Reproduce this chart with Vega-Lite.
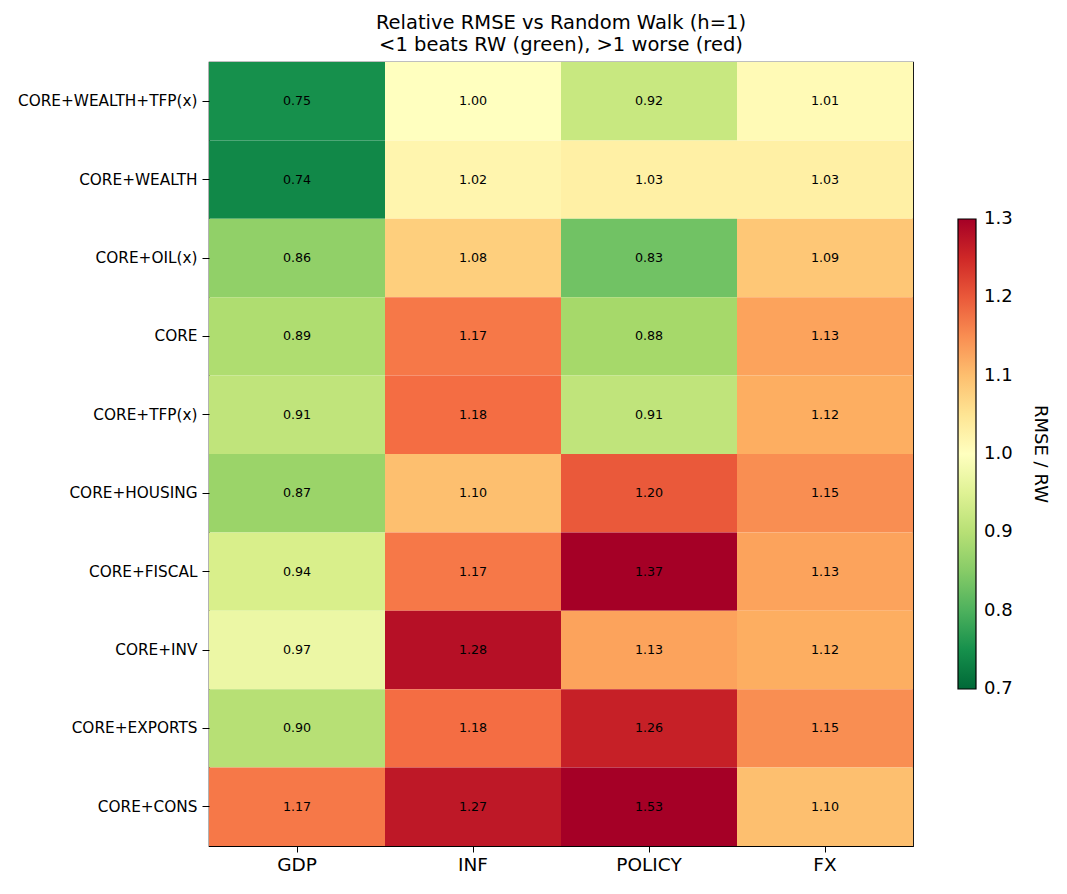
{
  "$schema": "https://vega.github.io/schema/vega-lite/v6.json",
  "autosize": "none",
  "padding": {"left": 209, "top": 62, "right": 154, "bottom": 48},
  "width": 704,
  "height": 784,
  "background": "white",
  "config": {
    "font": "DejaVu Sans",
    "view": {"stroke": "black", "strokeWidth": 1.2},
    "axis": {"grid": false, "domain": false, "tickColor": "black", "tickWidth": 1, "labelColor": "black", "labelFont": "DejaVu Sans"}
  },
  "title": {
    "text": ["Relative RMSE vs Random Walk (h=1)", "<1 beats RW (green), >1 worse (red)"],
    "fontSize": 19.5,
    "fontWeight": "normal",
    "font": "DejaVu Sans",
    "anchor": "middle",
    "lineHeight": 22,
    "offset": 7,
    "color": "black"
  },
  "data": {
    "values": [
      {"model": "CORE+WEALTH+TFP(x)", "target": "GDP", "v": 0.75},
      {"model": "CORE+WEALTH+TFP(x)", "target": "INF", "v": 1.00},
      {"model": "CORE+WEALTH+TFP(x)", "target": "POLICY", "v": 0.92},
      {"model": "CORE+WEALTH+TFP(x)", "target": "FX", "v": 1.01},
      {"model": "CORE+WEALTH", "target": "GDP", "v": 0.74},
      {"model": "CORE+WEALTH", "target": "INF", "v": 1.02},
      {"model": "CORE+WEALTH", "target": "POLICY", "v": 1.03},
      {"model": "CORE+WEALTH", "target": "FX", "v": 1.03},
      {"model": "CORE+OIL(x)", "target": "GDP", "v": 0.86},
      {"model": "CORE+OIL(x)", "target": "INF", "v": 1.08},
      {"model": "CORE+OIL(x)", "target": "POLICY", "v": 0.83},
      {"model": "CORE+OIL(x)", "target": "FX", "v": 1.09},
      {"model": "CORE", "target": "GDP", "v": 0.89},
      {"model": "CORE", "target": "INF", "v": 1.17},
      {"model": "CORE", "target": "POLICY", "v": 0.88},
      {"model": "CORE", "target": "FX", "v": 1.13},
      {"model": "CORE+TFP(x)", "target": "GDP", "v": 0.91},
      {"model": "CORE+TFP(x)", "target": "INF", "v": 1.18},
      {"model": "CORE+TFP(x)", "target": "POLICY", "v": 0.91},
      {"model": "CORE+TFP(x)", "target": "FX", "v": 1.12},
      {"model": "CORE+HOUSING", "target": "GDP", "v": 0.87},
      {"model": "CORE+HOUSING", "target": "INF", "v": 1.10},
      {"model": "CORE+HOUSING", "target": "POLICY", "v": 1.20},
      {"model": "CORE+HOUSING", "target": "FX", "v": 1.15},
      {"model": "CORE+FISCAL", "target": "GDP", "v": 0.94},
      {"model": "CORE+FISCAL", "target": "INF", "v": 1.17},
      {"model": "CORE+FISCAL", "target": "POLICY", "v": 1.37},
      {"model": "CORE+FISCAL", "target": "FX", "v": 1.13},
      {"model": "CORE+INV", "target": "GDP", "v": 0.97},
      {"model": "CORE+INV", "target": "INF", "v": 1.28},
      {"model": "CORE+INV", "target": "POLICY", "v": 1.13},
      {"model": "CORE+INV", "target": "FX", "v": 1.12},
      {"model": "CORE+EXPORTS", "target": "GDP", "v": 0.90},
      {"model": "CORE+EXPORTS", "target": "INF", "v": 1.18},
      {"model": "CORE+EXPORTS", "target": "POLICY", "v": 1.26},
      {"model": "CORE+EXPORTS", "target": "FX", "v": 1.15},
      {"model": "CORE+CONS", "target": "GDP", "v": 1.17},
      {"model": "CORE+CONS", "target": "INF", "v": 1.27},
      {"model": "CORE+CONS", "target": "POLICY", "v": 1.53},
      {"model": "CORE+CONS", "target": "FX", "v": 1.10}
    ]
  },
  "encoding": {
    "x": {
      "field": "target", "type": "nominal",
      "sort": ["GDP", "INF", "POLICY", "FX"],
      "title": null,
      "axis": {"labelAngle": 0, "labelFontSize": 18.5, "tickSize": 6, "labelPadding": 3}
    },
    "y": {
      "field": "model", "type": "nominal",
      "sort": ["CORE+WEALTH+TFP(x)", "CORE+WEALTH", "CORE+OIL(x)", "CORE", "CORE+TFP(x)", "CORE+HOUSING", "CORE+FISCAL", "CORE+INV", "CORE+EXPORTS", "CORE+CONS"],
      "title": null,
      "axis": {"labelFontSize": 15.3, "tickSize": 7, "labelPadding": 5}
    }
  },
  "layer": [
    {
      "mark": {"type": "rect"},
      "encoding": {
        "color": {
          "field": "v", "type": "quantitative",
          "scale": {
            "type": "linear",
            "domain": [0.7, 0.76, 0.82, 0.88, 0.94, 1.0, 1.06, 1.12, 1.18, 1.24, 1.3],
            "range": ["#006837", "#1a9850", "#66bd63", "#a6d96a", "#d9ef8b", "#ffffbf", "#fee08b", "#fdae61", "#f46d43", "#d73027", "#a50026"],
            "interpolate": "rgb",
            "clamp": true
          },
          "legend": {
            "title": "RMSE / RW",
            "orient": "none",
            "legendX": 749,
            "legendY": 157,
            "direction": "vertical",
            "gradientLength": 470,
            "gradientThickness": 18,
            "gradientStrokeColor": "black",
            "gradientStrokeWidth": 1.2,
            "values": [0.7, 0.8, 0.9, 1.0, 1.1, 1.2, 1.3],
            "format": ".1f",
            "labelFontSize": 18,
            "labelColor": "black",
            "labelOffset": 8,
            "labelOverlap": false,
            "titleOrient": "right",
            "titleAngle": -90,
            "titleFontSize": 18,
            "titleFontWeight": "normal",
            "titleColor": "black",
            "titleAnchor": "middle",
            "titlePadding": 18,
            "encode": {
              "labels": {"update": {"baseline": {"value": "middle"}}}
            }
          }
        }
      }
    },
    {
      "mark": {"type": "text", "fontSize": 12.7, "color": "black"},
      "encoding": {
        "text": {"field": "v", "type": "quantitative", "format": ".2f"}
      }
    }
  ]
}
